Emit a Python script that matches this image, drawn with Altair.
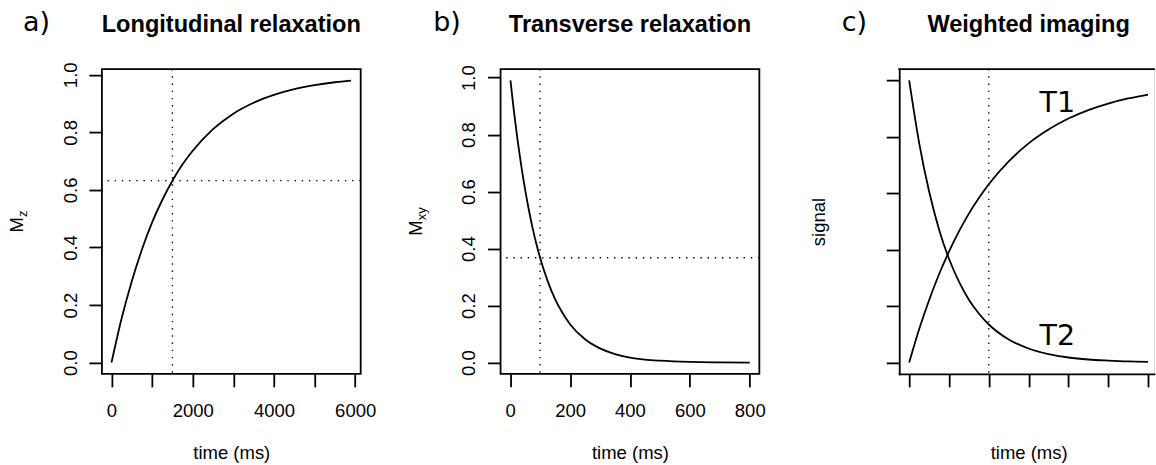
import altair as alt
import pandas as pd

# ---------------- data ----------------
# a) Longitudinal relaxation
a_time = [0, 250, 500, 750, 1000, 1250, 1500, 1750, 2000, 2500, 3000, 3500, 4000, 4500, 5000, 5500, 5900]
a_mz = [0.0, 0.154, 0.283, 0.393, 0.487, 0.565, 0.632, 0.689, 0.736, 0.811, 0.865, 0.903, 0.930, 0.950, 0.964, 0.974, 0.980]
a_vline = [1500]
a_hline = [0.632]
a_xticks = [0, 1000, 2000, 3000, 4000, 5000, 6000]

# b) Transverse relaxation
b_time = [1, 12, 25, 37, 50, 62, 75, 87, 100, 125, 150, 175, 200, 250, 300, 350, 400, 450, 500, 600, 700, 800]
b_mxy = [0.990, 0.887, 0.779, 0.691, 0.607, 0.538, 0.472, 0.419, 0.368, 0.287, 0.223, 0.174, 0.135,
         0.082, 0.050, 0.030, 0.018, 0.011, 0.007, 0.0025, 0.0009, 0.0003]
b_vline = [100]
b_hline = [0.368]
b_xticks = [0, 200, 400, 600, 800]

# c) Weighted imaging
c_time = [0, 0.25, 0.5, 0.75, 1, 1.25, 1.5, 1.75, 2, 2.5, 3, 3.5, 4, 4.5, 5, 5.5, 6]
c_t1 = [0.0, 0.118, 0.221, 0.313, 0.393, 0.465, 0.528, 0.583, 0.632, 0.713, 0.777, 0.826, 0.865, 0.895, 0.918, 0.936, 0.950]
c_t2 = [1.0, 0.779, 0.607, 0.472, 0.368, 0.287, 0.223, 0.174, 0.135, 0.082, 0.050, 0.030, 0.018, 0.011, 0.007, 0.004, 0.0025]
c_vline = [2]
c_labels = ["T1", "T2"]
c_label_x = [3.72, 3.72]
c_label_y = [0.888, 0.064]
c_xticks = [0, 1, 2, 3, 4, 5, 6]

y_ticks = [0.0, 0.2, 0.4, 0.6, 0.8, 1.0]

# ---------------- styling ----------------
SANS = "Liberation Sans"
DEJA = "DejaVu Sans"
FS = 18.5
TFS = 23.6
W, H = 259, 305
WC = 255                      # panel c is cut at the right edge of the picture
LW = 1.8
DOT = [1.4, 5.8]


def x_axis(values, labels=True, label_expr=None, domain=False):
    props = dict(values=values, title="time (ms)", grid=False, domain=domain, domainColor="black",
                 domainWidth=LW, domainCap="square", ticks=True, tickSize=13, tickWidth=LW,
                 tickColor="black", labels=labels, labelFont=SANS, labelFontSize=FS, labelColor="black",
                 labelAngle=0, labelAlign="center", labelBaseline="alphabetic", labelPadding=29.4,
                 labelFlush=False, labelOverlap=False, format="d",
                 titleFont=SANS, titleFontSize=FS, titleFontWeight="normal", titleColor="black",
                 titleX=W / 2, titleY=85, titleBaseline="alphabetic", titleAlign="center")
    if label_expr:
        props["labelExpr"] = label_expr
    return alt.Axis(**props)


def y_axis(labels=True, domain=False, title=None):
    props = dict(values=y_ticks, grid=False, domain=domain, domainColor="black", domainWidth=LW,
                 domainCap="square", ticks=True, tickSize=13, tickWidth=LW, tickColor="black",
                 labels=labels, format=".1f", labelFont=SANS, labelFontSize=FS, labelColor="black",
                 labelAngle=270, labelAlign="center", labelBaseline="alphabetic", labelPadding=12.7,
                 labelFlush=False, labelOverlap=False)
    if title:
        props.update(title=title, titleFont=SANS, titleFontSize=FS, titleFontWeight="normal",
                     titleColor="black", titleAngle=270, titleX=-74.3, titleY=H / 2,
                     titleAlign="center", titleBaseline="alphabetic")
    else:
        props["title"] = None
    return alt.Axis(**props)


def txt(text, x, y, size, font=SANS, angle=0, align="center", weight="normal"):
    return alt.Chart(pd.DataFrame({"k": [0]})).mark_text(
        text=text, font=font, fontSize=size, fontWeight=weight, angle=angle, align=align,
        baseline="alphabetic", color="black"
    ).encode(x=alt.value(x), y=alt.value(y))


def line(df, x, y):
    return alt.Chart(df).mark_line(color="black", strokeWidth=1.8, interpolate="monotone").encode(x=x, y=y)


def vrule(vals, x):
    return alt.Chart(pd.DataFrame({"t": vals})).mark_rule(
        color="black", strokeWidth=1.3, strokeDash=DOT).encode(x=x)


def hrule(vals, y):
    return alt.Chart(pd.DataFrame({"v": vals})).mark_rule(
        color="black", strokeWidth=1.3, strokeDash=DOT).encode(y=y)


frame = alt.ViewBackground(stroke="black", strokeWidth=LW)

# ---------------- panel a ----------------
xa = alt.X("t:Q", scale=alt.Scale(domain=[-236, 6136], nice=False, zero=False),
           axis=x_axis(a_xticks, label_expr="datum.value % 2000 == 0 ? datum.label : ''"))
ya = alt.Y("v:Q", scale=alt.Scale(domain=[-0.0392, 1.0196], nice=False, zero=False), axis=y_axis())
df_a = pd.DataFrame({"t": a_time, "v": a_mz})
panel_a = alt.layer(
    vrule(a_vline, xa), hrule(a_hline, ya), line(df_a, xa, ya),
    txt("a)", -79, -37.8, 27, font=DEJA, align="left"),
    txt("Longitudinal relaxation", W / 2, -37, TFS, weight="bold"),
    txt("M", -79, 155.8, FS, angle=270),
    txt("z", -74.5, 148.1, 13, angle=270, align="left"),
).properties(width=W, height=H, view=frame)

# ---------------- panel b ----------------
xb = alt.X("t:Q", scale=alt.Scale(domain=[-32, 832], nice=False, zero=False), axis=x_axis(b_xticks))
yb = alt.Y("v:Q", scale=alt.Scale(domain=[-0.0393, 1.0296], nice=False, zero=False), axis=y_axis())
df_b = pd.DataFrame({"t": b_time, "v": b_mxy})
panel_b = alt.layer(
    vrule(b_vline, xb), hrule(b_hline, yb), line(df_b, xb, yb),
    txt("b)", -67.5, -37.8, 27, font=DEJA, align="left"),
    txt("Transverse relaxation", W / 2, -37, TFS, weight="bold"),
    txt("M", -79, 159, FS, angle=270),
    txt("xy", -74.5, 151.3, 13, angle=270, align="left"),
).properties(width=W, height=H, view=frame)

# ---------------- panel c ----------------
c_xmax = -0.25 + WC * 6.5 / W
xc = alt.X("t:Q", scale=alt.Scale(domain=[-0.25, c_xmax], nice=False, zero=False),
           axis=x_axis(c_xticks, labels=False, domain=True))
yc = alt.Y("v:Q", scale=alt.Scale(domain=[-0.04, 1.04], nice=False, zero=False),
           axis=y_axis(labels=False, domain=True, title="signal"))
df_c1 = pd.DataFrame({"t": c_time, "v": c_t1})
df_c2 = pd.DataFrame({"t": c_time, "v": c_t2})
df_cl = pd.DataFrame({"t": c_label_x, "v": c_label_y, "lab": c_labels})
top_edge = alt.Chart(pd.DataFrame({"k": [0]})).mark_rule(
    color="black", strokeWidth=LW, strokeCap="square").encode(
    y=alt.Y(datum=1.04, scale=alt.Scale(domain=[-0.04, 1.04], nice=False, zero=False)))
panel_c = alt.layer(
    vrule(c_vline, xc), line(df_c1, xc, yc), line(df_c2, xc, yc), top_edge,
    alt.Chart(df_cl).mark_text(font=DEJA, fontSize=28.5, baseline="alphabetic", align="center",
                               color="black").encode(x=xc, y=yc, text="lab:N"),
    txt("c)", -57.5, -37.8, 27, font=DEJA, align="left"),
    txt("Weighted imaging", W / 2, -37, TFS, weight="bold"),
).properties(width=WC, height=H)

chart = alt.hconcat(panel_a, panel_b, panel_c, spacing=140, bounds="flush").properties(
    padding={"left": 7, "top": 8, "right": 0, "bottom": 2}
).configure_view(stroke=None).configure(background="white")

chart.save("out.html", embed_options={"renderer": "svg", "actions": False})
